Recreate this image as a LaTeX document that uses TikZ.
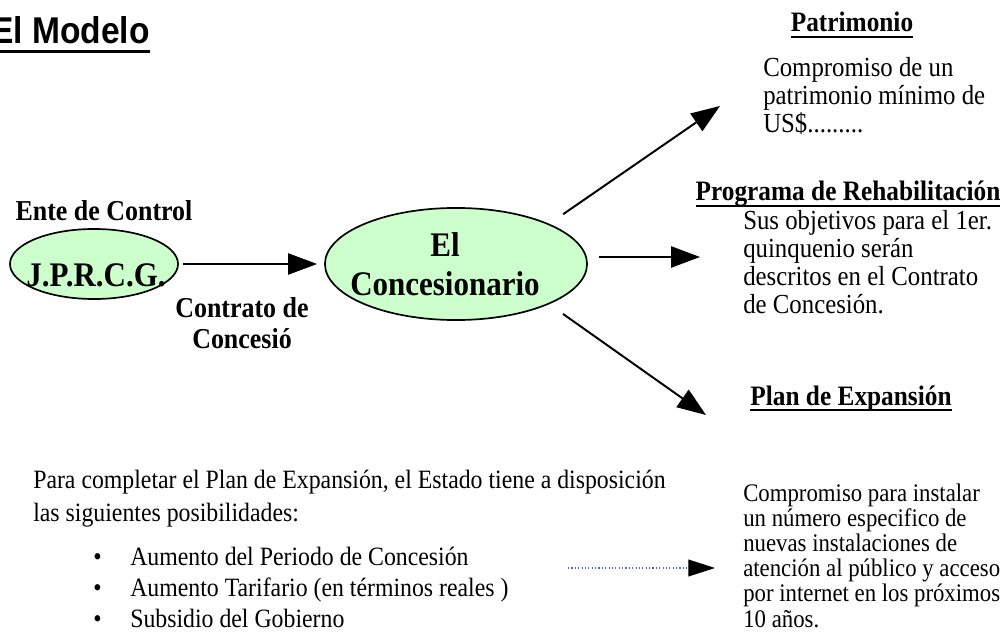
\documentclass[tikz,border=0pt]{standalone}
\usepackage{fontspec}
\setmainfont{Liberation Serif}[FakeStretch=0.9]
\newfontfamily\titlefont{Liberation Sans}[FakeStretch=0.9]
\usepackage{xcolor}
\definecolor{OvalFill}{RGB}{204,255,204}
\definecolor{DotBlue}{RGB}{70,100,220}
\usetikzlibrary{
  positioning,
  arrows.meta,
  shapes.geometric
}
% underlined title and headings
\newsavebox{\ulbox}
\newcommand{\ulrule}[3]{\sbox{\ulbox}{#3}\rlap{\usebox{\ulbox}}\rule[-#1]{\wd\ulbox}{#2}}
\newcommand{\titleline}[1]{\ulrule{6.4pt}{2.1pt}{#1}}
\newcommand{\headline}[1]{\ulrule{4.3pt}{1.4pt}{#1}}
\tikzset{
  % Green oval
  oval/.style={
    ellipse,
    draw=black,
    fill=OvalFill,
    line width=1.2pt,
    inner sep=0pt
  },
  % Text inside the ovals
  ovaltext/.style={
    font=\fontsize{24.5}{27.7}\selectfont\bfseries,
    align=center,
    inner sep=0pt
  },
  % Bold labels
  boldtext/.style={
    font=\fontsize{20.5}{22}\selectfont\bfseries,
    align=center,
    inner sep=0pt
  },
  % Underlined headings
  heading/.style={font=\fontsize{20}{22}\selectfont\bfseries, inner sep=0pt, anchor=base},
  % Body text blocks
  bodytop/.style={font=\fontsize{19.6}{19.9}\selectfont, align=left, inner sep=0pt, anchor=north west},
  bodybot/.style={font=\fontsize{18}{17.8}\selectfont, align=left, inner sep=0pt, anchor=north west},
  paratext/.style={font=\fontsize{18.8}{23.5}\selectfont, align=left, inner sep=0pt, anchor=north west},
  itemtext/.style={font=\fontsize{18.8}{20}\selectfont, inner sep=0pt, anchor=base west},
  % Title
  titletext/.style={font=\titlefont\bfseries\fontsize{26.5}{30}\selectfont, inner sep=0pt, anchor=base east},
  % Big arrow
  bigarrow/.style={
    draw=black,
    line width=1.4pt,
    -{Triangle[length=20.5pt,width=15pt]}
  },
  % Dotted arrow
  dotarrow/.style={
    draw=DotBlue,
    line width=0.8pt,
    dash pattern=on 0.8pt off 1.6pt,
    -{Triangle[length=19pt,width=12pt,color=black,fill=black]}
  }
}

\begin{document}
\begin{tikzpicture}[x=0.025cm, y=-0.025cm]
  \useasboundingbox (0,0) rectangle (1004,635);
  % Title
  \node[titletext] (title) at (150,44) {\titleline{El Modelo}};
  % Control entity
  \node[boldtext, anchor=base] (ente) at (104,221) {Ente de Control};
  \node[oval, minimum width=119.5pt, minimum height=49.8pt] (jprcg) at (94,264) {};
  \node[ovaltext, anchor=base] (jprcg-lbl) at (96,287) {J.P.R.C.G.};
  % Concessionaire
  \node[oval, minimum width=186.4pt, minimum height=79.7pt] (conc) at (456,264) {};
  \node[ovaltext, anchor=north] (conc-lbl) at (445,232) {El\\Concesionario};
  \node[boldtext, anchor=north] (contrato) at (242,297) {Contrato de\\Concesió};
  \draw[bigarrow, shorten <=3pt, shorten >=5pt] (jprcg) -- (conc);
  % Obligations
  \node[heading] (pat-head) at (852,32) {\headline{Patrimonio}};
  \node[bodytop] (pat-body) at (763,57) {Compromiso de un\\patrimonio mínimo de\\US\$.........};
  \node[heading] (reh-head) at (848,201) {\headline{Programa de Rehabilitación}};
  \node[bodytop] (reh-body) at (743,210) {Sus objetivos para el 1er.\\quinquenio serán\\descritos en el Contrato\\de Concesión.};
  \node[heading] (exp-head) at (851,405) {\headline{Plan de Expansión}};
  \node[bodybot] (exp-body) at (743,484) {Compromiso para instalar\\un número especifico de\\nuevas instalaciones de\\atención al público y acceso\\por internet en los próximos\\10 años.};
  \coordinate (pat-tip) at (720,106);
  \coordinate (reh-tip) at (700,257);
  \coordinate (exp-tip) at (706,415);
  \draw[bigarrow, shorten <=12pt] (conc.north east) -- (pat-tip);
  \draw[bigarrow, shorten <=8pt] (conc.east |- reh-tip) -- (reh-tip);
  \draw[bigarrow, shorten <=12pt] (conc.south east) -- (exp-tip);
  % State options
  \node[paratext] (para) at (33,470) {Para completar el Plan de Expansión, el Estado tiene a disposición\\las siguientes posibilidades:};
  \foreach \txt [count=\i] in {Aumento del Periodo de Concesión, Aumento Tarifario (en términos reales ), Subsidio del Gobierno} {
    \node[itemtext] (bullet\i) at (93, {534 + 31*\i}) {\textbullet};
    \node[itemtext] (item\i) at (130, {534 + 31*\i}) {\txt};
  }
  \coordinate (dot-from) at (568,568);
  \coordinate (dot-tip) at (715,568);
  \draw[dotarrow] (dot-from) -- (dot-tip);
\end{tikzpicture}
\end{document}
